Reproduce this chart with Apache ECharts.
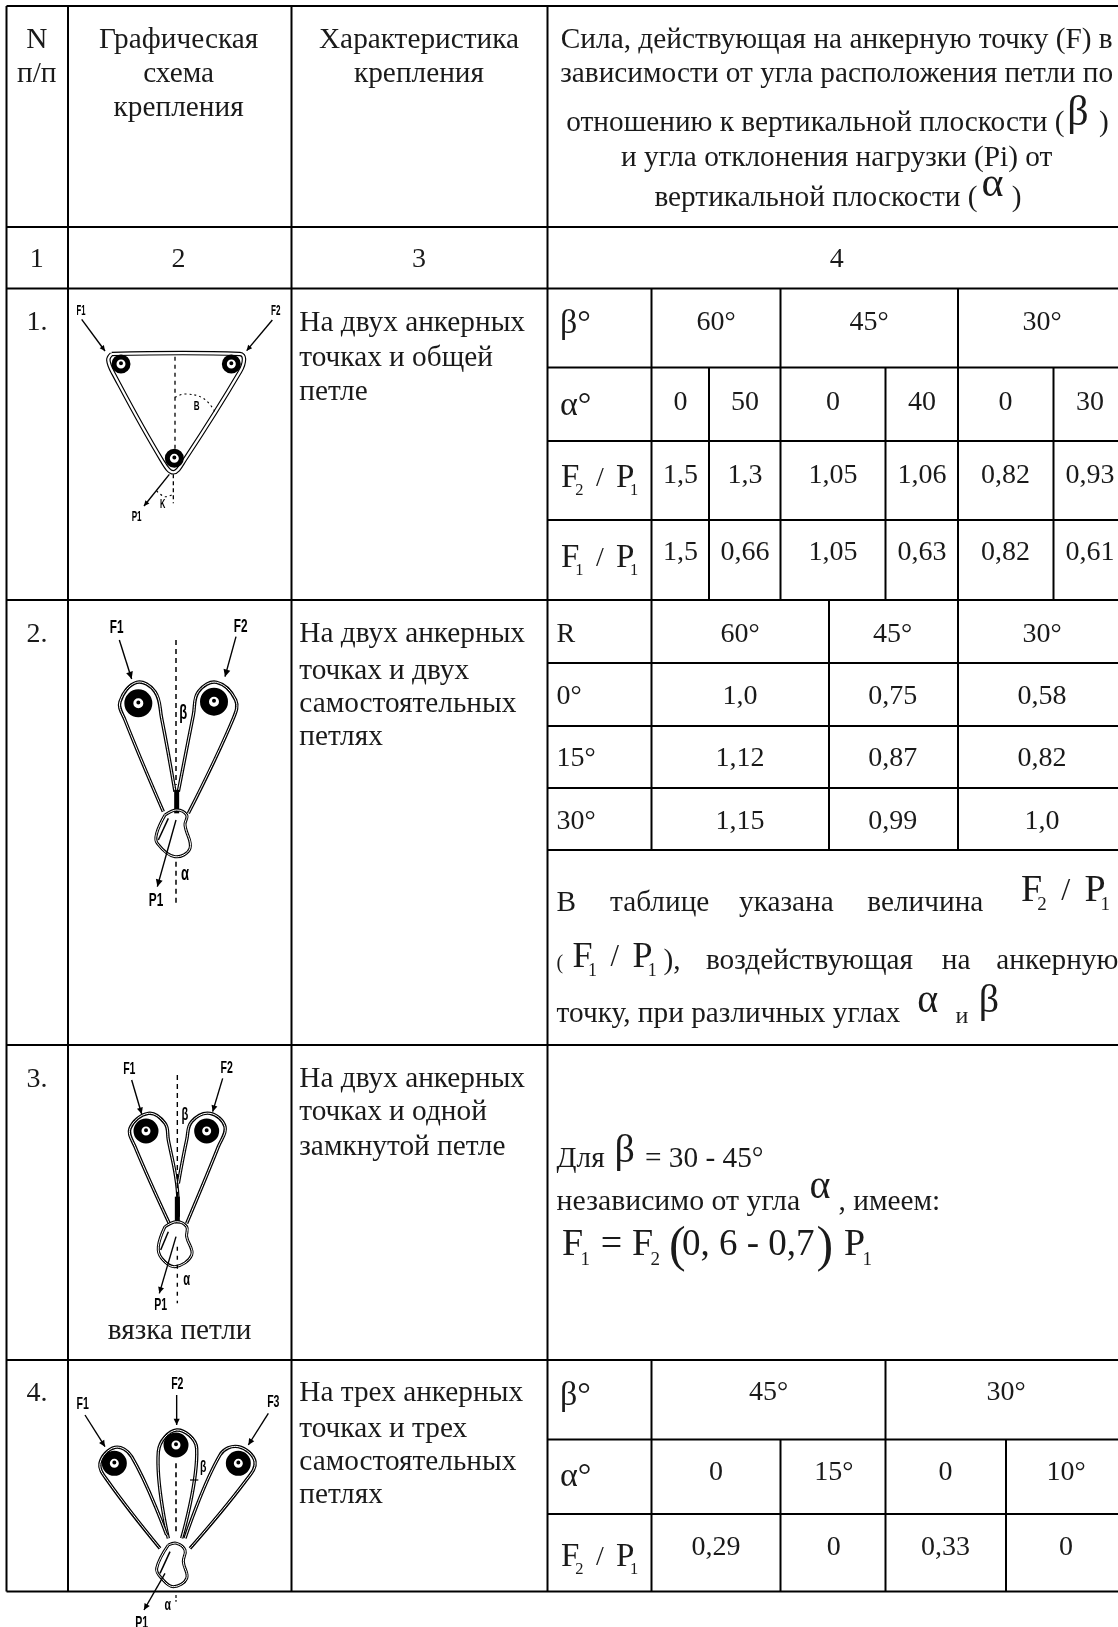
<!DOCTYPE html>
<html>
<head>
<meta charset="utf-8">
<style>html,body{margin:0;padding:0;background:#fff}#main{width:1118px;height:1627px}</style>
<script src="https://cdn.jsdelivr.net/npm/echarts@6/dist/echarts.min.js"></script>
</head>
<body>
<div id="main"></div>
<script>
// table contents
const headNo = ['N', 'п/п'];
const headScheme = ['Графическая', 'схема', 'крепления'];
const headKind = ['Характеристика', 'крепления'];
const headForce1 = 'Сила, действующая на анкерную точку (F) в';
const headForce2 = 'зависимости от угла расположения петли по';
const headForce3 = 'отношению к вертикальной плоскости (';
const headForce4 = 'и угла отклонения нагрузки (Pi) от';
const headForce5 = 'вертикальной плоскости (';
const columnNumbers = ['1', '2', '3', '4'];
const rowNumbers = ['1.', '2.', '3.', '4.'];
const kind1 = ['На двух анкерных', 'точках и общей', 'петле'];
const kind2 = ['На двух анкерных', 'точках и двух', 'самостоятельных', 'петлях'];
const kind3 = ['На двух анкерных', 'точках и одной', 'замкнутой петле'];
const kind4 = ['На трех анкерных', 'точках и трех', 'самостоятельных', 'петлях'];

const t1Beta = ['60°', '45°', '30°'];
const t1Alpha = ['0', '50', '0', '40', '0', '30'];
const t1F2 = ['1,5', '1,3', '1,05', '1,06', '0,82', '0,93'];
const t1F1 = ['1,5', '0,66', '1,05', '0,63', '0,82', '0,61'];

const t2Beta = ['60°', '45°', '30°'];
const t2Rows = ['0°', '15°', '30°'];
const t2Values = [['1,0', '0,75', '0,58'], ['1,12', '0,87', '0,82'], ['1,15', '0,99', '1,0']];

const t4Beta = ['45°', '30°'];
const t4Alpha = ['0', '15°', '0', '10°'];
const t4F2 = ['0,29', '0', '0,33', '0'];

// layout of the table, page pixels
const W = 1118, H = 1627;
const L = 6.5, C1 = 68, C2 = 291.5, C3 = 547.5;
const hLines = [
  [L, W, 6], [L, W, 227], [L, W, 288.5], [L, W, 600], [L, W, 1045], [L, W, 1360], [L, W, 1591.5],
  [C3, W, 367.5], [C3, W, 441], [C3, W, 520],
  [C3, W, 663], [C3, W, 726], [C3, W, 788], [C3, W, 850],
  [C3, W, 1439.5], [C3, W, 1514]
];
const vLines = [
  [L, 6, 1591.5], [C1, 6, 1591.5], [C2, 6, 1591.5], [C3, 6, 1591.5],
  [651.5, 288.5, 850], [780.5, 288.5, 600], [958, 288.5, 850], [709, 367.5, 600], [885.5, 367.5, 600], [1053.5, 367.5, 600],
  [829, 600, 850],
  [651.5, 1360, 1591.5], [885.5, 1360, 1591.5], [780.5, 1439.5, 1591.5], [1006, 1439.5, 1591.5]
];

const SERIF = '"Liberation Serif"';
const SANS = '"Liberation Sans"';
const TXT = 29.3, NUM = 28;
const texts = [];
function put(t, x, y, size = TXT, align = 'center', extra) {
  texts.push(Object.assign({ t, x, y, size, align }, extra));
}
function lines(arr, x, ys, size, align) {
  arr.forEach((t, i) => put(t, x, ys[i], size, align));
}
function ratio(x, y, sub, size = 33) {
  put('F', x, y, size, 'left');
  put(sub, x + size * 0.43, y + size * 0.23, size * 0.5, 'left');
  put('/', x + size * 1.06, y - 1, size * 0.85, 'left');
  put('P', x + size * 1.67, y, size, 'left');
  put('1', x + size * 2.09, y + size * 0.23, size * 0.5, 'left');
}

// header
lines(headNo, 36.8, [49, 83]);
lines(headScheme, 178.6, [49, 83, 117]);
lines(headKind, 419, [49, 83]);
put(headForce1, 836.7, 49); put(headForce2, 836.7, 83);
put(headForce3, 815.4, 132); put('β', 1078, 126.5, 42); put(')', 1104, 132);
put(headForce4, 836.7, 167);
put(headForce5, 816, 207.5); put('α', 992.6, 198, 42); put(')', 1016.6, 207.5);
[36.8, 178.6, 419, 836.7].forEach((x, i) => put(columnNumbers[i], x, 268, NUM));

// row numbers and mounting type
[331, 642.7, 1088, 1402.5].forEach((y, i) => put(rowNumbers[i], 37, y, NUM));
lines(kind1, 299.3, [332, 367.5, 401], TXT, 'left');
lines(kind2, 299.3, [643.5, 680, 713, 746], TXT, 'left');
lines(kind3, 299.3, [1088, 1120.8, 1156.5], TXT, 'left');
lines(kind4, 299.3, [1402.5, 1438, 1471, 1504.4], TXT, 'left');
put('вязка петли', 179.6, 1339.6);

// sub table of row 1
const t1BetaX = [716, 869, 1042];
const t1CellX = [680.5, 745, 833, 922, 1005.5, 1090];
put('β°', 560, 334, 34, 'left');
t1Beta.forEach((t, i) => put(t, t1BetaX[i], 331, NUM));
put('α°', 560, 416, 34, 'left');
t1Alpha.forEach((t, i) => put(t, t1CellX[i], 411, NUM));
ratio(561, 488.3, '2');
t1F2.forEach((t, i) => put(t, t1CellX[i], 484, NUM));
ratio(561, 568.3, '1');
t1F1.forEach((t, i) => put(t, t1CellX[i], 561, NUM));

// sub table of row 2
const t2X = [740, 892.7, 1042];
const t2Y = [705, 767.3, 830];
put('R', 556.6, 643.5, NUM, 'left');
t2Beta.forEach((t, i) => put(t, t2X[i], 643.5, NUM));
t2Rows.forEach((t, i) => {
  put(t, 556.6, t2Y[i], NUM, 'left');
  t2Values[i].forEach((v, j) => put(v, t2X[j], t2Y[i], NUM));
});
put('В', 556.6, 912, TXT, 'left');
put('таблице', 610, 912, TXT, 'left');
put('указана', 739, 912, TXT, 'left');
put('величина', 867.3, 912, TXT, 'left');
ratio(1021, 902, '2', 38);
put('(', 556.6, 970, 20, 'left');
ratio(572.4, 968, '1', 36);
put('),', 663.5, 970, TXT, 'left');
put('воздействующая', 705.9, 970, TXT, 'left');
put('на', 941.8, 970, TXT, 'left');
put('анкерную', 996.3, 970, TXT, 'left');
put('точку, при различных углах', 556.6, 1023.5, TXT, 'left');
put('α', 927.8, 1013, 40);
put('и', 962, 1023.5, 24);
put('β', 989, 1013, 40);

// note of row 3
put('Для', 556.6, 1168, TXT, 'left');
put('β', 624.8, 1163.6, 40);
put('= 30 - 45°', 645, 1168, TXT, 'left');
put('независимо от угла', 556.6, 1211, 29.8, 'left');
put('α', 820, 1199, 40);
put(', имеем:', 838.6, 1211, TXT, 'left');
put('F', 562, 1256.5, 38, 'left');
put('1', 580.5, 1266, 19, 'left');
put('=', 600.8, 1256, 38, 'left');
put('F', 632, 1256.5, 38, 'left');
put('2', 650.6, 1266, 19, 'left');
put('(', 669, 1263, 50, 'left');
put('0, 6 - 0,7', 682, 1256.5, 37, 'left');
put(')', 816.4, 1263, 50, 'left');
put('P', 844, 1256.5, 38, 'left');
put('1', 862.5, 1266, 19, 'left');

// sub table of row 4
const t4BetaX = [768.5, 1006];
const t4CellX = [716, 833.8, 945.5, 1066];
put('β°', 560, 1406, 34, 'left');
t4Beta.forEach((t, i) => put(t, t4BetaX[i], 1401.4, NUM));
put('α°', 560, 1487, 34, 'left');
t4Alpha.forEach((t, i) => put(t, t4CellX[i], 1481, NUM));
ratio(561, 1567, '2');
t4F2.forEach((t, i) => put(t, t4CellX[i], 1556, NUM));

// schemes: outlines are in crop pixels (3x), each frame maps them to the page
const shapes = [];
const frame1 = { ox: 70, oy: 290 }, frame2 = { ox: 70, oy: 605 }, frame3 = { ox: 70, oy: 1050 }, frame4 = { ox: 70, oy: 1365 };
const cv = (pts, f) => pts.map(p => [f.ox + p[0] / 3, f.oy + p[1] / 3]);
function stroke(pts, f, w = 1.2, dash, smooth = 0.4, color = '#000') {
  shapes.push({ kind: 'line', pts: cv(pts, f), w, dash, smooth, color });
}
function rope(pts, f, w = 3.4, core = 1) {
  stroke(pts, f, w);
  stroke(pts, f, core, null, 0.4, '#fff');
}
function arrow(from, to, f, size = 7) {
  const [a, b] = cv([from, to], f);
  shapes.push({ kind: 'line', pts: [a, b], w: 1.4, smooth: 0, color: '#000' });
  const ang = Math.atan2(b[1] - a[1], b[0] - a[0]);
  const side = s => [b[0] - size * Math.cos(ang + s), b[1] - size * Math.sin(ang + s)];
  shapes.push({ kind: 'fill', pts: [b, side(0.45), side(-0.45)] });
}
function ring(x, y, f, r, w) {
  const [c] = cv([[x, y]], f);
  shapes.push({ kind: 'ring', c, r, w });
  shapes.push({ kind: 'ring', c: [c[0], c[1] - 0.8], r: 1, w: 2 });
}
function tag(t, x, y, f, size = 15, squeeze = 0.62) {
  const [c] = cv([[x, y]], f);
  put(t, c[0], c[1] + size * 0.36, size, 'center', { family: SANS, weight: 'bold', color: '#000', squeeze });
}

// scheme 1
tag('F1', 33, 62, frame1, 14, 0.55); tag('F2', 617, 62, frame1, 14, 0.58);
arrow([35, 88], [105, 183], frame1, 6); arrow([607, 90], [530, 182], frame1, 6);
rope([[125, 192], [510, 192], [522, 207], [510, 245], [345, 508], [310, 547], [275, 510], [130, 250], [115, 210], [125, 192]], frame1, 4.5, 2.2);
ring(153, 222, frame1, 7, 5); ring(484, 222, frame1, 7, 5); ring(313, 505, frame1, 7, 5);
stroke([[315, 200], [315, 480]], frame1, 1.3, [4, 4], 0);
stroke([[310, 553], [310, 640]], frame1, 1.3, [4, 3], 0);
stroke([[315, 322], [345, 312], [400, 325], [435, 365]], frame1, 1.1, [2, 3]);
arrow([298, 553], [222, 648], frame1, 6);
stroke([[260, 603], [285, 620], [310, 612]], frame1, 1.1, [2, 3]);
tag('B', 380, 348, frame1, 13); tag('K', 278, 643, frame1, 12); tag('P1', 200, 680, frame1, 14, 0.58);

// scheme 2
tag('F1', 140, 65, frame2, 19); tag('F2', 512, 62, frame2, 19);
arrow([148, 105], [185, 222], frame2, 8); arrow([498, 95], [465, 215], frame2, 8);
rope([[280, 620], [165, 345], [150, 290], [200, 232], [255, 260], [275, 340], [315, 560]], frame2);
rope([[355, 625], [490, 340], [497, 285], [440, 232], [385, 260], [370, 330], [325, 560]], frame2);
ring(205, 295, frame2, 9.5, 9); ring(432, 290, frame2, 9.5, 9);
stroke([[320, 555], [320, 625]], frame2, 5, null, 0);
rope([[285, 630], [260, 685], [262, 715], [315, 755], [360, 730], [345, 660], [350, 630], [320, 615], [285, 630]], frame2, 3, 1);
stroke([[295, 640], [265, 705]], frame2, 1.5, null, 0);
stroke([[318, 105], [318, 540]], frame2, 1.5, [5, 4], 0);
stroke([[318, 770], [318, 900]], frame2, 1.5, [5, 4], 0);
arrow([318, 645], [262, 845], frame2, 8);
tag('β', 340, 320, frame2, 21); tag('α', 345, 805, frame2, 21); tag('P1', 258, 885, frame2, 19);

// scheme 3
tag('F1', 178, 55, frame3, 17); tag('F2', 470, 52, frame3, 17);
arrow([185, 90], [215, 192], frame3, 7); arrow([458, 85], [428, 185], frame3, 7);
rope([[300, 525], [195, 290], [180, 235], [235, 190], [285, 220], [295, 270], [320, 400], [325, 500]], frame3);
rope([[350, 520], [445, 290], [465, 230], [420, 190], [365, 215], [350, 270], [325, 400]], frame3);
ring(228, 243, frame3, 8.5, 8); ring(410, 243, frame3, 8.5, 8);
stroke([[322, 440], [322, 520]], frame3, 5, null, 0);
rope([[285, 530], [265, 590], [275, 625], [315, 650], [365, 615], [350, 560], [350, 530], [320, 515], [285, 530]], frame3, 3, 1);
stroke([[295, 545], [272, 600]], frame3, 1.5, null, 0);
stroke([[322, 75], [322, 490]], frame3, 1.4, [5, 4], 0);
stroke([[322, 590], [322, 760]], frame3, 1.4, [4, 5], 0);
arrow([318, 560], [268, 730], frame3, 7);
tag('β', 345, 192, frame3, 18); tag('α', 350, 688, frame3, 18); tag('P1', 272, 762, frame3, 17);

// scheme 4
tag('F2', 322, 55, frame4, 17); tag('F1', 38, 115, frame4, 17); tag('F3', 610, 108, frame4, 17);
arrow([320, 90], [320, 180], frame4, 7); arrow([45, 150], [105, 245], frame4, 7); arrow([595, 145], [535, 240], frame4, 7);
rope([[295, 520], [265, 260], [320, 195], [380, 250], [335, 520]], frame4);
rope([[270, 550], [115, 350], [90, 295], [135, 247], [185, 275], [290, 510]], frame4);
rope([[360, 550], [525, 350], [555, 290], [505, 245], [450, 270], [345, 520]], frame4);
ring(133, 295, frame4, 8.5, 8); ring(318, 240, frame4, 8.5, 8); ring(505, 295, frame4, 8.5, 8);
rope([[295, 540], [260, 610], [275, 640], [310, 665], [350, 640], [340, 590], [345, 555], [320, 535], [295, 540]], frame4, 3, 1);
stroke([[300, 560], [270, 625]], frame4, 1.5, null, 0);
stroke([[318, 295], [318, 510]], frame4, 1.6, [5, 4], 0);
stroke([[318, 690], [318, 710]], frame4, 1.2, [3, 2], 0);
stroke([[360, 345], [385, 345]], frame4, 1.2, null, 0);
arrow([285, 625], [222, 735], frame4, 7);
tag('β', 400, 305, frame4, 17); tag('α', 293, 718, frame4, 17); tag('P1', 215, 772, frame4, 17);

const ruleData = hLines.map(l => [l[0], l[2], l[1], l[2]]).concat(vLines.map(l => [l[0], l[1], l[0], l[2]]));

const chart = echarts.init(document.getElementById('main'), null, { renderer: 'canvas' });
chart.setOption({
  backgroundColor: '#fff',
  animation: false,
  grid: { left: 0, right: 0, top: 0, bottom: 0 },
  xAxis: { type: 'value', min: 0, max: W, show: false },
  yAxis: { type: 'value', min: 0, max: H, inverse: true, show: false },
  series: [
    {
      type: 'custom', clip: false, silent: true,
      data: ruleData,
      renderItem(params, api) {
        const a = api.coord([api.value(0), api.value(1)]);
        const b = api.coord([api.value(2), api.value(3)]);
        return {
          type: 'line',
          shape: { x1: a[0], y1: a[1], x2: b[0], y2: b[1] },
          style: { stroke: '#000', lineWidth: 2 }
        };
      }
    },
    {
      type: 'custom', clip: false, silent: true,
      data: shapes.map(s => (s.pts ? s.pts[0] : s.c)),
      renderItem(params, api) {
        const s = shapes[params.dataIndex];
        if (s.kind === 'ring') {
          const c = api.coord(s.c);
          return { type: 'circle', shape: { cx: c[0], cy: c[1], r: s.r }, style: { fill: '#fff', stroke: '#000', lineWidth: s.w } };
        }
        const points = s.pts.map(p => api.coord(p));
        if (s.kind === 'fill') {
          return { type: 'polygon', shape: { points }, style: { fill: '#000' } };
        }
        return {
          type: 'polyline',
          shape: { points, smooth: s.smooth },
          style: { fill: null, stroke: s.color, lineWidth: s.w, lineDash: s.dash || null }
        };
      }
    },
    {
      type: 'custom', clip: false, silent: true,
      data: texts.map(d => [d.x, d.y]),
      renderItem(params, api) {
        const d = texts[params.dataIndex];
        const p = api.coord([d.x, d.y]);
        return {
          type: 'text',
          x: p[0],
          y: p[1] - d.size * 0.3,
          scaleX: d.squeeze || 1,
          style: {
            x: 0, y: 0,
            text: d.t,
            align: d.align, verticalAlign: 'middle',
            fontSize: d.size,
            fontFamily: d.family || SERIF,
            fontWeight: d.weight || 'normal',
            fill: d.color || '#1a1a1a'
          }
        };
      }
    }
  ]
});
</script>
</body>
</html>
